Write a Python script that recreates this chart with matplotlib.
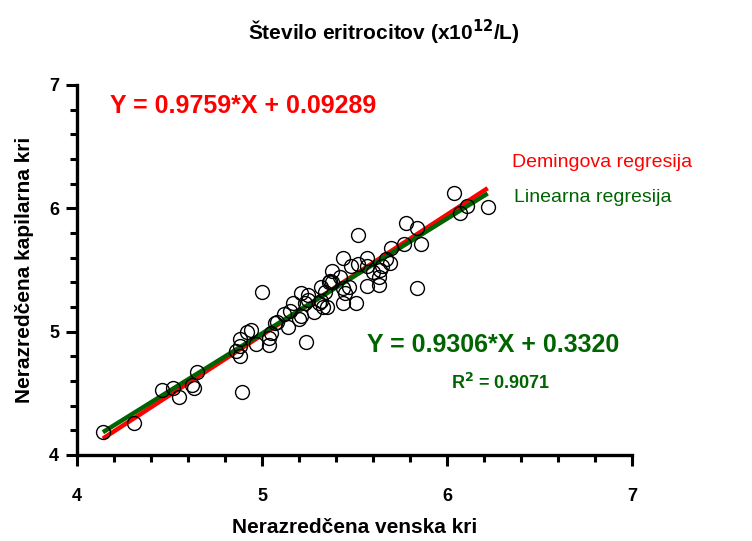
import matplotlib.pyplot as plt
from matplotlib.ticker import MultipleLocator
import numpy as np

plt.rcParams['font.family'] = ['Liberation Sans', 'DejaVu Sans']

# paired RBC counts: venous (x) vs capillary (y), x10^12/L
venska = [4.14, 4.31, 4.46, 4.52, 4.55, 4.62, 4.63, 4.65, 4.89, 4.88,
          4.86, 4.88, 4.88, 4.92, 4.94, 4.97, 5.00, 5.04, 5.04, 5.05,
          5.07, 5.08, 5.14, 5.12, 5.15, 5.17, 5.20, 5.21, 5.21, 5.24,
          5.23, 5.25, 5.25, 5.28, 5.31, 5.32, 5.33, 5.32, 5.35, 5.34,
          5.36, 5.38, 5.38, 5.42, 5.44, 5.44, 5.45, 5.44, 5.47, 5.48,
          5.51, 5.52, 5.52, 5.57, 5.57, 5.67, 5.65, 5.69, 5.64, 5.60,
          5.63, 5.63, 5.57, 5.84, 5.70, 5.77, 5.86, 5.78, 5.84, 6.04,
          6.11, 6.07, 6.22, 5.37]
kapilarna = [4.19, 4.26, 4.53, 4.54, 4.47, 4.57, 4.54, 4.67, 4.51, 4.80,
             4.84, 4.88, 4.94, 5.00, 5.01, 4.90, 5.32, 4.89, 4.95, 4.99,
             5.07, 5.08, 5.04, 5.14, 5.17, 5.23, 5.10, 5.13, 5.31, 4.92,
             5.23, 5.30, 5.26, 5.16, 5.23, 5.25, 5.20, 5.36, 5.20, 5.32,
             5.40, 5.40, 5.49, 5.44, 5.60, 5.35, 5.31, 5.23, 5.36, 5.53,
             5.23, 5.78, 5.55, 5.60, 5.53, 5.59, 5.53, 5.56, 5.50, 5.48,
             5.44, 5.38, 5.37, 5.35, 5.68, 5.71, 5.71, 5.88, 5.84, 6.12,
             6.02, 5.96, 6.01, 5.41]

deming = (0.9759, 0.09289)
linearna = (0.9306, 0.3320)
r2 = 0.9071

red = '#ff0000'
green = '#006400'

fig = plt.figure(figsize=(7.52, 5.41), dpi=100)
ax = fig.add_axes([0.1024, 0.159, 0.738, 0.684])

xs = np.array([min(venska), max(venska)])
ax.plot(xs, deming[0] * xs + deming[1], color=red, lw=3.2,
        solid_capstyle='butt', zorder=2)
ax.plot(xs, linearna[0] * xs + linearna[1], color=green, lw=3.2,
        solid_capstyle='butt', zorder=3)
ax.plot(venska, kapilarna, 'o', ms=10, mfc='none', mec='black', mew=1.0,
        zorder=4)

ax.set_xlim(4, 7)
ax.set_ylim(4, 7)
ax.xaxis.set_major_locator(MultipleLocator(1))
ax.yaxis.set_major_locator(MultipleLocator(1))
ax.xaxis.set_minor_locator(MultipleLocator(0.2))
ax.yaxis.set_minor_locator(MultipleLocator(0.2))

for side in ('top', 'right'):
    ax.spines[side].set_visible(False)
for side in ('left', 'bottom'):
    ax.spines[side].set_linewidth(2.4)
ax.tick_params(which='major', length=8, width=2.2, direction='out',
               labelsize=13)
ax.tick_params(which='minor', length=5, width=2.2, direction='out')
ax.tick_params(axis='x', which='major', pad=16)
ax.tick_params(axis='y', which='major', pad=5)
for lab in ax.get_xticklabels() + ax.get_yticklabels():
    lab.set_fontweight('bold')

ax.set_xlabel('Nerazredčena venska kri', fontsize=15, fontweight='bold',
              labelpad=9)
ax.set_ylabel('Nerazredčena kapilarna kri', fontsize=15, fontweight='bold',
              labelpad=11)
fig.text(0.51, 0.94, r'Število eritrocitov (x10$^{\mathbf{12}}$/L)',
         ha='center', va='center', fontsize=15, fontweight='bold')

ax.text(4.18, 6.83, 'Y = %.4f*X + %.5f' % deming, color=red,
        fontsize=18, fontweight='bold', va='center', ha='left')
ax.text(6.25, 4.89, 'Y = %.4f*X + %.4f' % linearna, color=green,
        fontsize=18, fontweight='bold', va='center', ha='center')
ax.text(6.29, 4.58, r'R$^{\mathbf{2}}$ = %.4f' % r2, color=green,
        fontsize=13, fontweight='bold', va='center', ha='center')

ax.text(6.35, 6.37, 'Demingova regresija', color=red, fontsize=14,
        va='center', ha='left', clip_on=False)
ax.text(6.36, 6.09, 'Linearna regresija', color=green, fontsize=14,
        va='center', ha='left', clip_on=False)

fig.savefig('out.png', dpi=100)
